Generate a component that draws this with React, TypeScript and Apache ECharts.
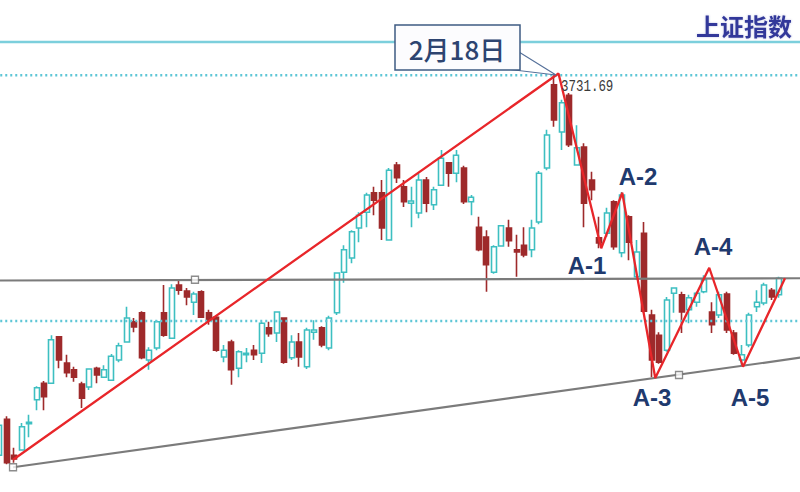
import React, { useEffect, useRef } from "react";
import * as echarts from "echarts";

// Daily OHLC of the Shanghai Composite
const opens = [3225, 3273, 3225, 3232, 3267, 3299, 3321, 3321, 3383, 3348, 3339, 3320, 3316, 3341, 3329, 3325, 3352, 3376, 3403, 3415,
  3352, 3368, 3415, 3381, 3452, 3444, 3429, 3443, 3415, 3409, 3356, 3376, 3341, 3359, 3365, 3361, 3395, 3388, 3408, 3355,
  3376, 3343, 3389, 3395, 3368, 3415, 3469, 3488, 3528, 3549, 3575, 3575, 3512, 3612, 3583, 3561, 3548, 3592, 3559, 3585,
  3615, 3601, 3608, 3563, 3529, 3516, 3469, 3504, 3528, 3499, 3505, 3499, 3536, 3608, 3719, 3656, 3705, 3612, 3636, 3592,
  3515, 3521, 3563, 3495, 3543, 3463, 3521, 3412, 3385, 3365, 3441, 3439, 3419, 3429, 3443, 3416, 3412, 3440, 3388, 3352,
  3372, 3423, 3428, 3445, 3439];
const closes = [3265, 3215, 3220, 3263, 3269, 3315, 3303, 3379, 3352, 3335, 3329, 3301, 3340, 3332, 3339, 3357, 3371, 3408, 3396, 3355,
  3365, 3403, 3385, 3448, 3445, 3436, 3440, 3409, 3405, 3365, 3365, 3339, 3363, 3361, 3359, 3401, 3387, 3416, 3349, 3376,
  3356, 3392, 3392, 3372, 3408, 3468, 3499, 3523, 3545, 3572, 3565, 3528, 3605, 3595, 3563, 3564, 3592, 3561, 3579, 3621,
  3601, 3625, 3563, 3569, 3499, 3479, 3503, 3531, 3511, 3496, 3492, 3528, 3601, 3652, 3672, 3695, 3639, 3635, 3561, 3579,
  3508, 3548, 3503, 3572, 3509, 3496, 3417, 3352, 3349, 3432, 3448, 3416, 3435, 3441, 3459, 3399, 3439, 3392, 3361, 3359,
  3412, 3429, 3452, 3436, 3461];
const lows = [3224, 3213, 3215, 3231, 3249, 3285, 3285, 3320, 3341, 3329, 3323, 3288, 3312, 3321, 3328, 3324, 3349, 3375, 3389, 3353,
  3339, 3365, 3383, 3380, 3439, 3425, 3412, 3408, 3399, 3363, 3349, 3319, 3329, 3349, 3352, 3348, 3383, 3376, 3347, 3352,
  3343, 3340, 3379, 3369, 3365, 3412, 3455, 3481, 3509, 3529, 3545, 3512, 3511, 3588, 3556, 3529, 3541, 3549, 3552, 3584,
  3583, 3589, 3560, 3545, 3497, 3443, 3467, 3503, 3503, 3463, 3489, 3489, 3533, 3605, 3663, 3632, 3636, 3611, 3529, 3565,
  3501, 3516, 3499, 3489, 3485, 3459, 3415, 3329, 3347, 3363, 3415, 3388, 3401, 3423, 3441, 3388, 3408, 3388, 3359, 3345,
  3369, 3416, 3425, 3432, 3435];
const highs = [3268, 3277, 3235, 3268, 3279, 3317, 3324, 3385, 3384, 3359, 3343, 3323, 3341, 3343, 3345, 3360, 3375, 3423, 3408, 3417,
  3369, 3405, 3452, 3453, 3459, 3448, 3443, 3445, 3419, 3412, 3372, 3379, 3365, 3368, 3372, 3403, 3403, 3417, 3409, 3385,
  3388, 3395, 3405, 3397, 3411, 3469, 3505, 3525, 3549, 3575, 3583, 3592, 3608, 3616, 3592, 3583, 3601, 3596, 3583, 3632,
  3616, 3632, 3611, 3572, 3543, 3525, 3505, 3532, 3539, 3519, 3529, 3539, 3604, 3659, 3731.69, 3699, 3708, 3665, 3641, 3603,
  3543, 3555, 3565, 3576, 3545, 3512, 3536, 3419, 3389, 3436, 3449, 3443, 3439, 3443, 3465, 3429, 3443, 3443, 3392, 3372,
  3415, 3445, 3455, 3448, 3463];

const slotCount = 108; // trading-day slots on the axis (last few empty)
const categories = Array.from({ length: slotCount }, (_, i) => `D${i + 1}`);

// Reference levels
const peakValue = 3731.69;
const topLevel = 3776;
const lowerDottedLevel = 3404;
const neckline = [[-0.5, 3458], [107.5, 3461]];
const supportLine = [[1.87, 3209], [107.5, 3356]];
const trendPath = [[1.87, 3219], [74.6, 3734], [80.3, 3501], [83.1, 3575], [87.5, 3328], [94.7, 3475], [99.2, 3343], [104.8, 3461]];
const squareMarks = [[1.87, 3209], [26.13, 3459], [90.67, 3332]];
const waveLabels = ["A-1", "A-2", "A-3", "A-4", "A-5"];
const calloutText = "2月18日";
const titleText = "上证指数";

const CYAN = "#3dbfc1";
const RED = "#9e2a2b";

export default function App() {
  const ref = useRef<HTMLDivElement>(null);
  useEffect(() => {
    if (!ref.current) return;
    const chart = echarts.init(ref.current, null, { renderer: "svg" });
    const candleData = opens.map((o, i) => [o, closes[i], lows[i], highs[i]]);
    const flat = (v: number) => [[-0.5, v], [107.5, v]];
    const lineBase = {
      type: "line",
      xAxisIndex: 1,
      yAxisIndex: 0,
      showSymbol: false,
      silent: true,
      clip: false,
    };
    const labelPos: Record<string, [number, number]> = {
      "A-1": [587, 265],
      "A-2": [638, 176],
      "A-3": [652, 397],
      "A-4": [713, 246],
      "A-5": [750, 397],
    };
    chart.setOption({
      animation: false,
      backgroundColor: "#ffffff",
      grid: { left: -4.75, right: -5.25, top: 0, bottom: 0, outerBoundsMode: "none", containLabel: false },
      xAxis: [
        { type: "category", data: categories, show: false, boundaryGap: true },
        { type: "value", min: -0.5, max: 107.5, show: false },
      ],
      yAxis: [{ type: "value", min: 3176, max: 3832, show: false, splitLine: { show: false } }],
      series: [
        {
          type: "candlestick",
          data: candleData,
          barWidth: 5.5,
          itemStyle: {
            color: "#ffffff",
            color0: RED,
            borderColor: CYAN,
            borderColor0: RED,
            borderWidth: 1.6,
          },
          z: 2,
        },
        { ...lineBase, data: flat(topLevel), lineStyle: { color: "#7ccfdc", width: 2.5 }, z: 3 },
        { ...lineBase, data: flat(peakValue), lineStyle: { color: "#5ec6d6", width: 2.5, type: [2, 3] }, z: 3 },
        { ...lineBase, data: flat(lowerDottedLevel), lineStyle: { color: "#5ec6d6", width: 2.5, type: [2, 3] }, z: 3 },
        { ...lineBase, data: neckline, lineStyle: { color: "#7b7b7b", width: 2.2 }, z: 4 },
        { ...lineBase, data: supportLine, lineStyle: { color: "#7b7b7b", width: 2.2 }, z: 4 },
        { ...lineBase, data: trendPath, lineStyle: { color: "#e8262a", width: 2.3 }, z: 5 },
        {
          type: "scatter",
          xAxisIndex: 1,
          yAxisIndex: 0,
          data: squareMarks,
          symbol: "rect",
          symbolSize: 7,
          silent: true,
          itemStyle: { color: "#ffffff", borderColor: "#6f6f6f", borderWidth: 1.3 },
          z: 6,
        },
      ],
      graphic: [
        {
          type: "polygon",
          z: 100,
          shape: { points: [[506, 69], [519, 52], [556, 75]] },
          style: { fill: "#ffffff", stroke: "#56719a", lineWidth: 1.2 },
        },
        {
          type: "rect",
          z: 101,
          shape: { x: 395, y: 25, width: 125, height: 45 },
          style: { fill: "#fcfcfe", stroke: "#3e5b82", lineWidth: 1.5 },
        },
        {
          type: "text",
          z: 102,
          x: 457,
          y: 48,
          style: {
            text: calloutText,
            fill: "#2d4470",
            font: "500 26px 'Noto Sans CJK SC', sans-serif",
            align: "center",
            verticalAlign: "middle",
          },
        },
        {
          type: "text",
          z: 102,
          x: 561,
          y: 87,
          scaleX: 0.78,
          style: {
            text: peakValue.toFixed(2),
            fill: "#3a3a3a",
            font: "16px 'Liberation Mono', monospace",
            align: "left",
            verticalAlign: "middle",
          },
        },
        {
          type: "text",
          z: 102,
          x: 744,
          y: 25,
          style: {
            text: titleText,
            fill: "#33399a",
            font: "bold 24px 'Noto Sans CJK SC', sans-serif",
            align: "center",
            verticalAlign: "middle",
            textShadowColor: "rgba(80,90,180,0.35)",
            textShadowBlur: 2,
          },
        },
        ...waveLabels.map((t) => ({
          type: "text",
          z: 102,
          x: labelPos[t][0],
          y: labelPos[t][1],
          style: {
            text: t,
            fill: "#1f3a6e",
            font: "bold 24px 'Liberation Sans', Arial, sans-serif",
            align: "center",
            verticalAlign: "middle",
          },
        })),
      ],
    });
    return () => chart.dispose();
  }, []);
  return (
    <div
      ref={ref}
      style={{ position: "fixed", left: 0, top: 0, width: 800, height: 492, background: "#fff" }}
    />
  );
}
